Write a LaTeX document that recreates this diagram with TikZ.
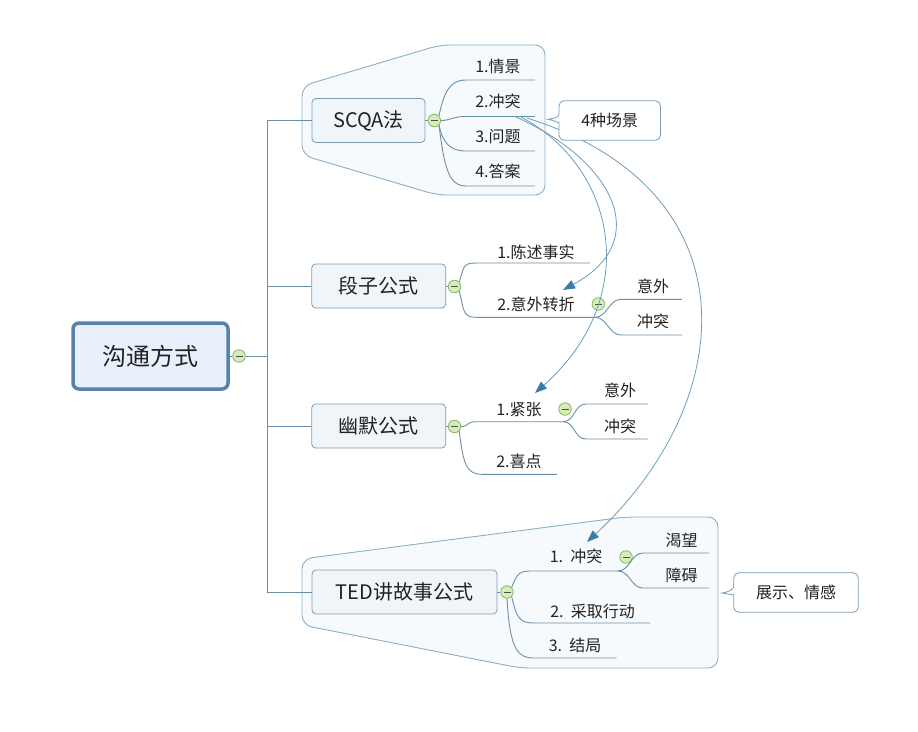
\documentclass[tikz,border=0pt]{standalone}
\usepackage{fontspec}
\setmainfont{Noto Sans CJK SC}
\usetikzlibrary{arrows.meta,calc}
\definecolor{lc}{HTML}{6A8FA8}
\definecolor{bc}{HTML}{8AB0C6}
\definecolor{bfill}{HTML}{F7FAFD}
\definecolor{tb}{HTML}{7C9CB4}
\definecolor{tfill}{HTML}{F0F5FA}
\definecolor{rb}{HTML}{5583AA}
\definecolor{rfill}{HTML}{E8F1FB}
\definecolor{gb}{HTML}{86BA62}
\definecolor{gf}{HTML}{D6ECBA}
\definecolor{gm}{HTML}{505050}
\definecolor{ac}{HTML}{6E9CBB}
\definecolor{ah}{HTML}{3E7CA8}
\definecolor{txt}{HTML}{222222}
\begin{document}
\begin{tikzpicture}[x=1pt,y=-1pt,
  conn/.style={draw=lc,line width=0.9pt},
  bound/.style={draw=bc,fill=bfill,line width=0.9pt,rounded corners=10pt},
  topic/.style={draw=tb,fill=tfill,line width=0.8pt,rounded corners=4pt,minimum height=44pt,font=\fontsize{20}{20}\selectfont,inner sep=0pt,text=txt},
  rootbox/.style={draw=rb,fill=rfill,line width=3.5pt,rounded corners=6pt,minimum width=155pt,minimum height=66pt,font=\fontsize{24}{24}\selectfont,text=txt},
  sub/.style={font=\fontsize{16}{16}\selectfont,inner sep=0pt,text=txt},
  coll/.style={circle,draw=gb,fill=gf,line width=0.8pt,minimum size=12.5pt,inner sep=0pt,
    path picture={\draw[line width=0.9pt,draw=gm] ([xshift=-3.5pt]path picture bounding box.center) -- ([xshift=3.5pt]path picture bounding box.center);}},
  rel/.style={draw=ac,line width=0.8pt,-{Triangle[length=12pt,width=9pt,color=ah]}},
  callout/.style={draw=tb,fill=white,line width=0.8pt}
]
\useasboundingbox (0,0) rectangle (918,731);
\fill[white] (0,0) rectangle (918,731);

% boundaries
\draw[bound] (302,121) -- (302,86) -- (440,45) -- (545,45) -- (545,195) -- (437,195) -- (302,155) -- cycle;
\draw[bound] (302,592) -- (302,559) -- (625,517) -- (718,517) -- (718,668) -- (520,668) -- (302,625) -- cycle;

% root
\node[rootbox] (root) at (150.5,356) {沟通方式};
\node[coll] (c0) at (239,356) {};
\coordinate (sp) at (267,356);
\draw[conn] (root) -- (c0);
\draw[conn] (c0) -- (sp);

% topics
\node[topic,minimum width=113pt] (scqa) at (368.5,120.5) {SCQA法};
\node[topic,minimum width=134pt] (duan) at (378.7,286) {段子公式};
\node[topic,minimum width=134pt] (youmo) at (378.7,426) {幽默公式};
\node[topic,minimum width=185pt] (ted) at (404.5,592) {TED讲故事公式};
\draw[conn] (sp) |- (scqa.west);
\draw[conn] (sp) |- (duan.west);
\draw[conn] (sp) |- (youmo.west);
\draw[conn] (sp) |- (ted.west);

\node[coll] (cs) at (434.3,120.5) {};
\node[coll] (cd) at (454.5,286.5) {};
\node[coll] (cy) at (454.5,426.5) {};
\node[coll] (ct) at (507,592) {};
\draw[conn] (scqa) -- (cs);
\draw[conn] (duan) -- (cd);
\draw[conn] (youmo) -- (cy);
\draw[conn] (ted) -- (ct);

% SCQA subtopics
\node[sub] (s1) at (498,66.5) {1.情景};
\node[sub] (s2) at (498,101.7) {2.冲突};
\node[sub] (s3) at (498,136.7) {3.问题};
\node[sub] (s4) at (498,171.7) {4.答案};
\coordinate (s1a) at (466,80);    \coordinate (s1b) at (535,80);
\coordinate (s2a) at (466,116.5); \coordinate (s2b) at (535,116.5);
\coordinate (s3a) at (466,151);   \coordinate (s3b) at (535,151);
\coordinate (s4a) at (466,186);   \coordinate (s4b) at (535,186);
\draw[conn] (cs.north east) .. controls +(5,-24) and +(-16,0) .. (s1a) -- (s1b);
\draw[conn] (cs.east) .. controls +(10,0) and +(-14,0) .. (s2a) -- (s2b);
\draw[conn] (cs.south east) .. controls +(4,18) and +(-16,0) .. (s3a) -- (s3b);
\draw[conn] (cs.south east) .. controls +(5,40) and +(-18,0) .. (s4a) -- (s4b);

% duanzi subtopics
\node[sub] (d1) at (536,252.7) {1.陈述事实};
\node[sub] (d2) at (536,304) {2.意外转折};
\coordinate (d1a) at (476,263);   \coordinate (d1b) at (590,263);
\coordinate (d2a) at (476,317.3); \coordinate (d2b) at (595,317.3);
\draw[conn] (cd.north east) .. controls +(5,-14) and +(-14,0) .. (d1a) -- (d1b);
\draw[conn] (cd.south east) .. controls +(5,18) and +(-14,0) .. (d2a) -- (d2b);
\node[coll] (cd2) at (598.3,304) {};
\node[sub] (d21) at (653,286) {意外};
\node[sub] (d22) at (653,321.7) {冲突};
\coordinate (d21a) at (621,299.3); \coordinate (d21b) at (682,299.3);
\coordinate (d22a) at (621,335);   \coordinate (d22b) at (682,335);
\draw[conn] (d2b) .. controls +(12,0) and +(-12,0) .. (d21a) -- (d21b);
\draw[conn] (d2b) .. controls +(12,0) and +(-12,0) .. (d22a) -- (d22b);

% youmo subtopics
\node[sub] (y1) at (519,410) {1.紧张};
\node[sub] (y2) at (519,461.7) {2.喜点};
\coordinate (y1a) at (476,421.7); \coordinate (y1b) at (563,421.7);
\coordinate (y2a) at (482,474.3); \coordinate (y2b) at (557,474.3);
\draw[conn] (cy.east) .. controls +(8,0) and +(-10,0) .. (y1a) -- (y1b);
\draw[conn] (cy.south east) .. controls +(4,32) and +(-16,0) .. (y2a) -- (y2b);
\node[coll] (cy2) at (565,409) {};
\node[sub] (y11) at (620,390.7) {意外};
\node[sub] (y12) at (620,426.7) {冲突};
\coordinate (y11a) at (586,404); \coordinate (y11b) at (648,404);
\coordinate (y12a) at (586,439); \coordinate (y12b) at (648,439);
\draw[conn] (y1b) .. controls +(12,0) and +(-12,0) .. (y11a) -- (y11b);
\draw[conn] (y1b) .. controls +(12,0) and +(-12,0) .. (y12a) -- (y12b);

% TED subtopics
\node[sub] (t1) at (576,556.7) {1.~~冲突};
\node[sub] (t2) at (592.5,611) {2.~~采取行动};
\node[sub] (t3) at (575,645) {3.~~结局};
\coordinate (t1a) at (530,571); \coordinate (t1b) at (618,571);
\coordinate (t2a) at (534,623); \coordinate (t2b) at (650,623);
\coordinate (t3a) at (534,658); \coordinate (t3b) at (616.7,658);
\draw[conn] (ct.north east) .. controls +(5,-12) and +(-12,0) .. (t1a) -- (t1b);
\draw[conn] (ct.south east) .. controls +(5,22) and +(-14,0) .. (t2a) -- (t2b);
\draw[conn] (ct.south) .. controls +(3,52) and +(-16,0) .. (t3a) -- (t3b);
\node[coll] (ct2) at (626,557) {};
\node[sub] (t11) at (681.5,540) {渴望};
\node[sub] (t12) at (681.5,575) {障碍};
\coordinate (t11a) at (643,553); \coordinate (t11b) at (709,553);
\coordinate (t12a) at (643,588); \coordinate (t12b) at (709,588);
\draw[conn] (t1b) .. controls +(12,0) and +(-12,0) .. (t11a) -- (t11b);
\draw[conn] (t1b) .. controls +(12,0) and +(-12,0) .. (t12a) -- (t12b);

% relationships
\coordinate (rs1) at (516,117);
\coordinate (rs2) at (521,117);
\coordinate (rs3) at (527,118);
\coordinate (re1) at (563,290);
\coordinate (re2) at (535,393);
\coordinate (re3) at (587,542);
\draw[rel] (rs1) .. controls (612,160) and (655,240) .. (re1);
\draw[rel] (rs2) .. controls (620,170) and (640,300) .. (re2);
\draw[rel] (rs3) .. controls (755,190) and (740,400) .. (re3);

% callouts
\node[sub,minimum width=101pt,minimum height=39pt] (cal1) at (609.7,120.5) {};
\coordinate (tip1) at (547.7,119.3);
\draw[callout,rounded corners=5pt] ($(cal1.west)+(0,-7)$) |- (cal1.north east) |- (cal1.south west) -- ($(cal1.west)+(0,7)$)
  [sharp corners] .. controls ($(cal1.west)+(0,3)$) and ($(tip1)+(7,1)$) .. (tip1)
  .. controls ($(tip1)+(7,-1)$) and ($(cal1.west)+(0,-3)$) .. ($(cal1.west)+(0,-7)$) -- cycle;
\node[sub] (cal1t) at (cal1) {4种场景};

\node[sub,minimum width=124pt,minimum height=39pt] (cal2) at (796,592.5) {};
\coordinate (tip2) at (722,593);
\draw[callout,rounded corners=5pt] ($(cal2.west)+(0,-7)$) |- (cal2.north east) |- (cal2.south west) -- ($(cal2.west)+(0,7)$)
  [sharp corners] .. controls ($(cal2.west)+(0,3)$) and ($(tip2)+(7,1)$) .. (tip2)
  .. controls ($(tip2)+(7,-1)$) and ($(cal2.west)+(0,-3)$) .. ($(cal2.west)+(0,-7)$) -- cycle;
\node[sub] (cal2t) at (cal2) {展示、情感};
\end{tikzpicture}
\end{document}
